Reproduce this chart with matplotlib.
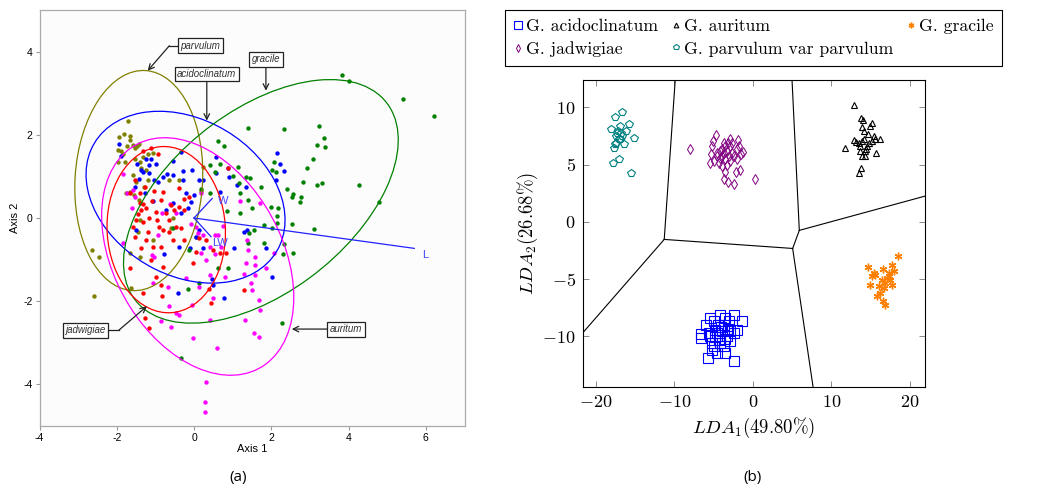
import matplotlib
matplotlib.use('Agg')
import matplotlib.pyplot as plt
from matplotlib.patches import Ellipse
from matplotlib.ticker import FuncFormatter, FixedLocator

# ---------------- panel (a): PCA scatter ----------------
parvulum_a = [(-1.72, 2.32), (-1.93, 1.94), (-1.82, 2.01), (-1.66, 1.96), (-1.66, 1.88), (-1.97, 1.64),
              (-1.89, 1.60), (-1.83, 1.54), (-1.97, 1.35), (-1.78, 1.35), (-1.73, 1.72), (-1.59, 1.76),
              (-1.54, 1.68), (-1.47, 1.72), (-1.43, 1.78), (-1.54, 1.41), (-1.41, 1.35), (-1.33, 1.47),
              (-1.20, 1.54), (-1.05, 1.57), (-1.24, 1.15), (-1.37, 1.19), (-1.59, 1.03), (-1.50, 0.87),
              (-1.67, 0.63), (-1.76, 0.59), (-1.20, 0.91), (-0.64, 0.91), (-0.38, 0.91), (0.24, 1.23),
              (0.18, 0.66), (-1.43, 0.43), (-1.41, -0.05), (-1.46, -0.33), (-1.05, -0.53), (-1.41, -0.93),
              (-1.65, -0.85), (-1.63, -1.69), (-2.65, -0.77), (-2.47, -0.93), (-2.58, -1.88), (-0.55, 0.0),
              (-1.30, 0.75), (-1.55, 0.55), (-0.60, -0.25), (0.05, -0.45)]
acido_a = [(-1.93, 1.78), (-1.89, 1.48), (-1.47, 1.30), (-1.37, 1.15), (-1.24, 1.41), (-1.17, 1.27),
           (-1.11, 1.43), (-0.98, 1.30), (-1.31, 1.11), (-1.17, 1.09), (-1.43, 0.93), (-1.54, 0.75),
           (-1.27, 0.59), (-1.04, 0.91), (-0.94, 0.87), (-0.81, 0.99), (-0.70, 1.06), (-0.55, 1.03),
           (-0.34, 1.58), (-0.55, 1.37), (-0.29, 1.14), (-0.05, 1.15), (-0.28, 0.91), (0.14, 0.91),
           (0.24, 0.91), (0.01, 0.55), (-0.08, 0.39), (-0.15, 0.23), (-0.55, 0.35), (-0.72, 0.19),
           (-0.34, 0.11), (0.57, 1.47), (0.87, 1.19), (0.91, 0.99), (0.57, 1.07), (0.66, 0.63),
           (1.10, 0.79), (1.34, 0.75), (2.14, 1.56), (2.23, 1.30), (2.32, 1.14), (2.12, 0.91),
           (1.36, -0.29), (1.30, -0.33), (1.86, -0.71), (2.01, -1.41), (1.04, -0.73), (0.24, -0.73),
           (0.05, -0.45), (0.12, -0.29), (-0.38, -0.69), (-0.77, -0.87), (-0.10, -0.73), (-1.50, -0.29),
           (0.47, -1.47), (0.48, -1.61), (-0.42, -1.81), (0.78, -1.92), (-1.05, 0.40), (-0.20, 0.60)]
gracile_a = [(3.84, 3.44), (4.00, 3.29), (5.41, 2.87), (6.22, 2.44), (1.39, 2.16), (2.34, 2.14),
             (3.24, 2.20), (3.37, 1.92), (3.40, 1.70), (3.18, 1.75), (3.07, 1.42), (2.93, 1.19),
             (2.81, 0.87), (3.18, 0.79), (3.31, 0.85), (4.28, 0.79), (4.79, 0.38), (2.55, 0.58),
             (2.40, 0.69), (2.53, 0.50), (2.74, 0.38), (2.78, 0.51), (2.02, 1.15), (2.08, 1.35),
             (2.12, 1.11), (1.99, 0.27), (2.16, 0.23), (2.15, 0.05), (2.15, -0.11), (2.02, -0.23),
             (1.82, -0.17), (2.53, -0.15), (3.11, -0.26), (2.34, -0.63), (2.30, -0.87), (2.56, -0.83),
             (1.82, -0.59), (1.73, 0.75), (1.50, 0.23), (1.39, 0.43), (1.34, 0.99), (1.56, -0.29),
             (1.43, -0.35), (1.39, -0.59), (1.13, 1.23), (1.16, 0.83), (1.19, 0.59), (1.19, 0.11),
             (0.63, 1.84), (0.78, 1.74), (0.66, 1.31), (0.41, 1.27), (0.55, 1.11), (0.40, 0.61),
             (0.18, 0.69), (0.84, 0.18), (0.87, -1.21), (0.61, -1.21), (0.14, -1.57), (-0.16, -1.71),
             (-0.14, -0.77), (-0.55, -0.25), (-0.34, -3.36), (2.28, -2.52), (1.00, 1.00), (1.45, 0.95)]
auritum_a = [(-1.84, 1.06), (-1.73, 0.59), (-1.59, 0.67), (-1.54, 0.51), (-1.84, -0.61), (-1.09, -0.89),
             (-1.03, -0.93), (-0.84, 0.11), (-0.61, 0.34), (-0.47, 0.11), (-0.08, -0.14), (0.05, -0.21),
             (0.09, -0.37), (0.22, -0.41), (0.18, 0.59), (0.53, -0.42), (0.61, -0.42), (0.42, -0.69),
             (0.70, -0.69), (0.55, -0.87), (0.18, -0.85), (0.14, -1.67), (0.40, -1.37), (0.79, -1.41),
             (1.19, 0.42), (1.37, -0.53), (1.39, -0.77), (1.59, -0.93), (1.57, -1.13), (1.34, -1.07),
             (1.30, -1.35), (1.57, -1.37), (1.48, -1.56), (1.49, -1.72), (1.71, 0.37), (1.87, -1.21),
             (1.69, -1.96), (1.71, -2.21), (2.08, -0.83), (1.33, -2.45), (1.56, -2.77), (1.69, -2.87),
             (0.42, -2.44), (0.48, -1.93), (-0.05, -2.09), (-0.64, -2.11), (-0.47, -2.29), (-0.38, -2.33),
             (-0.85, -2.48), (-0.59, -2.61), (-0.03, -2.89), (0.59, -3.13), (0.31, -3.94), (0.28, -4.42),
             (0.28, -4.66), (-1.05, -1.57), (-0.68, -1.65), (-0.94, -0.41), (-0.21, -1.45), (-1.60, 0.25),
             (0.75, -0.20), (0.30, -1.00)]
jadwig_a = [(-1.11, 1.69), (-1.33, 1.62), (-0.94, 1.53), (-1.54, 0.91), (-1.67, 0.61), (-1.27, 0.75),
            (-1.03, 0.66), (-0.81, 0.63), (-0.85, 0.43), (-1.41, 0.35), (-1.31, 0.34), (-1.37, 0.19),
            (-1.24, 0.23), (-1.50, -0.05), (-1.33, -0.09), (-1.16, -0.01), (-0.98, 0.15), (-0.72, 0.11),
            (-0.51, 0.19), (-0.38, 0.27), (-0.25, 0.19), (-0.59, 0.31), (-0.14, 0.51), (-0.91, -0.21),
            (-0.81, -0.29), (-0.66, -0.33), (-0.47, -0.21), (-0.34, -0.25), (-0.55, -0.53), (-0.85, -0.69),
            (-1.07, -0.69), (-1.37, -0.73), (-1.24, -0.53), (-1.20, -0.33), (-1.54, -0.45), (-1.59, -0.21),
            (-1.66, -1.21), (-0.81, -1.17), (-0.98, -1.41), (-0.85, -1.61), (-0.82, -1.88), (-1.31, -1.80),
            (-1.26, -2.40), (-1.17, -2.64), (0.05, -0.81), (-0.03, -1.09), (0.31, -0.53), (0.12, -0.49),
            (0.48, -0.77), (0.66, -0.85), (0.83, -0.85), (0.87, 1.19), (0.45, -2.05), (0.38, -1.70),
            (1.28, -1.73), (-1.11, -1.01), (-0.25, -0.53), (-1.41, 0.59), (-0.38, 0.71), (-1.10, 0.40),
            (-0.65, -0.05), (-1.45, 0.10), (-0.95, -0.05), (-0.25, 0.45)]

ell_centers = [(-1.43, 0.9), (-0.22, 0.5), (1.73, 0.4), (0.095, -0.925), (-0.72, -0.28)]
ell_widths = [3.3, 5.4, 8.06, 6.26, 3.06]
ell_heights = [5.3, 3.8, 4.46, 4.26, 4.0]
ell_angles = [-4, -25, 34.4, 124, 4]

vec_names = ['L', 'W', 'LW']
vec_ends = [(5.7, -0.73), (0.47, 0.47), (0.44, -0.45)]
vec_text = [(5.9, -0.9), (0.62, 0.42), (0.48, -0.6)]

box_names = ['parvulum', 'acidoclinatum', 'gracile', 'jadwigiae', 'auritum']
box_pos = [(0.17, 4.14), (0.33, 3.46), (1.86, 3.82), (-2.81, -2.70), (3.93, -2.67)]
box_elbow = [(-0.64, 4.14), (0.33, 3.46), (1.86, 3.82), (-1.95, -2.70), (3.93, -2.67)]
box_tip = [(-1.2, 3.54), (0.33, 2.34), (1.86, 3.06), (-1.22, -2.12), (2.53, -2.67)]

# ---------------- panel (b): LDA scatter ----------------
acido_b = [(-6.57, -9.8), (-6.57, -10.15), (-5.77, -11.9), (-2.36, -12.13), (-2.36, -8.1), (-1.38, -8.69),
           (-5.94, -8.98), (-4.15, -8.1), (-3.09, -8.69), (-2.45, -9.71), (-5.21, -10.58), (-3.51, -11.46),
           (-4.57, -11.46), (-3.72, -10.88), (-4.79, -9.42), (-5.43, -8.4), (-5.0, -8.69), (-3.72, -8.98),
           (-3.3, -10.0), (-4.36, -10.29), (-5.43, -10.0), (-2.87, -9.42), (-3.94, -9.56), (-4.57, -9.71),
           (-4.15, -10.58), (-2.87, -10.44), (-5.64, -9.71), (-3.51, -8.4), (-2.02, -9.42), (-5.21, -11.17),
           (-4.0, -9.2), (-4.8, -10.1), (-3.6, -10.2), (-4.4, -9.0), (-3.2, -9.4), (-4.9, -10.8)]
auritum_b = [(12.87, 10.2), (13.81, 9.04), (14.06, 8.92), (15.21, 8.63), (15.0, 8.4), (14.15, 7.96),
             (14.66, 7.66), (12.87, 7.14), (11.72, 6.44), (15.64, 7.28), (16.28, 7.23), (15.77, 6.06),
             (13.81, 4.74), (13.51, 4.31), (13.94, 5.77), (14.36, 6.2), (13.72, 6.64), (14.57, 6.64),
             (13.94, 7.08), (14.79, 6.93), (14.15, 7.23), (13.51, 6.93), (13.72, 6.2), (14.36, 5.77),
             (15.21, 7.08), (15.43, 7.52), (13.94, 8.25), (13.1, 7.0), (14.4, 6.4)]
gracile_b = [(18.49, -2.94), (14.7, -3.96), (15.43, -4.45), (15.21, -4.74), (15.0, -5.47), (16.07, -5.56),
             (16.62, -4.1), (17.77, -3.78), (17.98, -4.31), (17.34, -4.45), (17.13, -4.89), (16.91, -5.33),
             (16.49, -5.04), (17.77, -5.47), (15.85, -6.5), (16.28, -6.2), (16.62, -6.93), (16.91, -7.22),
             (17.34, -4.74), (17.55, -5.04), (16.7, -5.77), (15.64, -4.6)]
jadwig_b = [(-7.98, 6.35), (0.23, 3.78), (-4.7, 7.6), (-5.13, 7.08), (-5.2, 6.64), (-5.28, 5.91),
            (-5.43, 5.18), (-2.96, 7.28), (-1.94, 7.14), (-1.81, 6.64), (-1.26, 6.12), (-1.51, 5.91),
            (-2.06, 5.47), (-1.6, 4.51), (-2.15, 4.37), (-3.51, 4.37), (-3.72, 3.78), (-3.21, 3.52),
            (-2.45, 3.34), (-3.94, 4.89), (-4.36, 5.18), (-4.23, 5.62), (-4.57, 6.06), (-3.94, 6.35),
            (-3.51, 6.64), (-2.96, 6.64), (-2.66, 6.06), (-3.09, 5.77), (-3.51, 5.47), (-3.72, 6.06),
            (-4.15, 6.2), (-3.3, 6.2), (-2.87, 5.33), (-2.45, 5.77), (-3.94, 5.77), (-3.72, 6.93),
            (-3.21, 6.93), (-2.66, 6.93), (-2.02, 6.35), (-4.57, 5.77), (-4.91, 5.33), (-3.3, 5.0)]
parvulum_b = [(-16.7, 9.62), (-17.55, 9.18), (-18.06, 8.1), (-17.0, 8.34), (-15.77, 8.54), (-16.15, 7.96),
              (-16.83, 7.81), (-17.34, 7.81), (-17.43, 7.52), (-17.13, 7.23), (-17.43, 6.93), (-16.49, 6.79),
              (-17.68, 6.5), (-15.2, 7.31), (-17.85, 5.18), (-17.13, 5.47), (-15.51, 4.25), (-17.2, 7.96),
              (-17.0, 7.23), (-17.55, 6.79), (-16.7, 7.52)]

# decision boundaries (segments)
bound_x = [(-9.9, -11.3), (-11.3, -21.7), (-11.3, 5.08), (5.08, 7.68), (5.08, 5.93), (5.93, 5.0), (5.93, 22.0)]
bound_y = [(12.4, -1.53), (-1.53, -9.7), (-1.53, -2.32), (-2.32, -14.4), (-2.32, -0.74), (-0.74, 12.4), (-0.74, 2.26)]

legend_names = ['G. acidoclinatum', 'G. auritum', 'G. gracile', 'G. jadwigiae', 'G. parvulum var parvulum']

plt.rcParams['mathtext.fontset'] = 'cm'
plt.rcParams['axes.unicode_minus'] = False
plt.rcParams['font.family'] = 'Liberation Sans'

fig = plt.figure(figsize=(10.51, 4.87), dpi=100)

# ---- (a)
ax = fig.add_axes([39.5 / 1051, 1 - 426 / 487, 425 / 1051, 416 / 487])
ax.set_facecolor('#fdfcfd')
ax.set_xlim(-4, 7)
ax.set_ylim(-5, 5)
ax.set_xticks([-4, -2, 0, 2, 4, 6])
ax.set_yticks([-4, -2, 0, 2, 4])
ax.tick_params(labelsize=7.5, length=3, color='#999999', width=0.8, pad=2)
for s in ax.spines.values():
    s.set_color('#aaaaaa')
    s.set_linewidth(0.9)
ax.set_xlabel('Axis 1', fontsize=8, labelpad=1)
ax.set_ylabel('Axis 2', fontsize=8, labelpad=2)

groups_a = [(parvulum_a, '#808000'), (acido_a, '#0000ff'), (gracile_a, '#008000'),
            (auritum_a, '#ff00ff'), (jadwig_a, '#ff0000')]
for pts, col in groups_a:
    ax.scatter([p[0] for p in pts], [p[1] for p in pts], s=10, color=col, linewidths=0, zorder=3)

ell_colors = ['#808000', '#0000ff', '#008000', '#ff00ff', '#ff0000']
for c, w, h, a, col in zip(ell_centers, ell_widths, ell_heights, ell_angles, ell_colors):
    ax.add_patch(Ellipse(c, w, h, angle=a, fill=False, edgecolor=col, linewidth=0.9, zorder=4))

for name, end, tp in zip(vec_names, vec_ends, vec_text):
    ax.plot([0, end[0]], [0, end[1]], color='#2222ff', lw=0.9, zorder=5)
    ax.text(tp[0], tp[1], name, color='#4444ff', fontsize=8, ha='left', va='center', zorder=5)

for name, pos, elb, tip in zip(box_names, box_pos, box_elbow, box_tip):
    ax.plot([pos[0], elb[0]], [pos[1], elb[1]], color='#222222', lw=0.9, zorder=6)
    ax.annotate('', xy=tip, xytext=elb,
                arrowprops=dict(arrowstyle='->', color='#222222', lw=0.9, shrinkA=0, shrinkB=0),
                zorder=6)
    ax.text(pos[0], pos[1], name, fontsize=7, style='italic', ha='center', va='center', color='#333333',
            bbox=dict(boxstyle='square,pad=0.25', fc='white', ec='#222222', lw=0.9), zorder=7)

fig.text(238 / 1051, 1 - 477 / 487, '(a)', fontsize=11, ha='center', va='center', family='Open Sans')

# ---- (b)
bx = fig.add_axes([582.7 / 1051, 1 - 386.7 / 487, 342.6 / 1051, 306.7 / 487])
bx.set_xlim(-21.7, 22.0)
bx.set_ylim(-14.4, 12.4)
bx.xaxis.set_major_locator(FixedLocator([-20, -10, 0, 10, 20]))
bx.yaxis.set_major_locator(FixedLocator([-10, -5, 0, 5, 10]))
fmt = FuncFormatter(lambda v, p: '$%g$' % v)
bx.xaxis.set_major_formatter(fmt)
bx.yaxis.set_major_formatter(fmt)
bx.tick_params(direction='in', top=True, right=True, length=4.5, width=0.6, color='#777777',
               labelsize=13, pad=5)
for s in bx.spines.values():
    s.set_color('black')
    s.set_linewidth(0.8)
bx.set_xlabel(r'$LDA_1(49.80\%)$', fontsize=13.5, labelpad=4)
bx.set_ylabel(r'$LDA_2(26.68\%)$', fontsize=13.5, labelpad=2)

for xs, ys in zip(bound_x, bound_y):
    bx.plot(xs, ys, color='black', lw=0.8, zorder=2)

h1, = bx.plot([p[0] for p in acido_b], [p[1] for p in acido_b], ls='none', marker='s', ms=6.8,
              mfc='none', mec='#0000ff', mew=0.8, zorder=3)
h2, = bx.plot([p[0] for p in auritum_b], [p[1] for p in auritum_b], ls='none', marker='^', ms=4.5,
              mfc='none', mec='black', mew=0.8, zorder=3)
h3, = bx.plot([p[0] for p in gracile_b], [p[1] for p in gracile_b], ls='none', marker=(6, 2, 0), ms=5.5,
              mfc='none', mec='#ff8000', mew=1.0, zorder=3)
h4, = bx.plot([p[0] for p in jadwig_b], [p[1] for p in jadwig_b], ls='none', marker='d', ms=5.0,
              mfc='none', mec='#800080', mew=0.7, zorder=3)
h5, = bx.plot([p[0] for p in parvulum_b], [p[1] for p in parvulum_b], ls='none', marker='p', ms=5.4,
              mfc='none', mec='#008080', mew=0.8, zorder=3)

handles = [h1, h4, h2, h5, h3]
labels = [legend_names[0], legend_names[3], legend_names[1], legend_names[4], legend_names[2]]
leg = fig.legend(handles, labels, loc='upper left', bbox_to_anchor=(505 / 1051, 1 - 10 / 487),
                 ncol=3, prop={'family': 'cmr10', 'size': 12.7}, frameon=True, fancybox=False,
                 edgecolor='black', framealpha=1, handlelength=0.5, handletextpad=0.2,
                 columnspacing=0.75, borderpad=0.5, labelspacing=0.4, markerscale=0.75, borderaxespad=0)
leg.get_frame().set_linewidth(0.8)

fig.text(753 / 1051, 1 - 477 / 487, '(b)', fontsize=11, ha='center', va='center', family='Open Sans')

fig.savefig('out.png', dpi=100)
